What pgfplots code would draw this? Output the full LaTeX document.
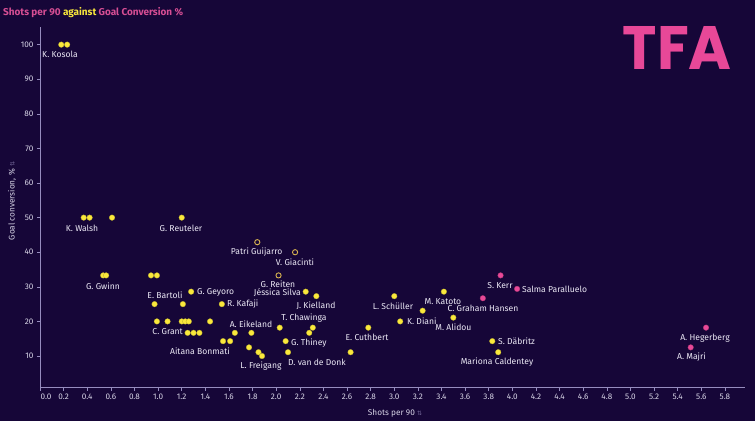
\documentclass[border=0pt]{standalone}
\usepackage{fontspec}
\setmainfont{Fira Sans}
\newfontfamily\logofont{Poppins}
\newfontfamily\symfont{DejaVu Sans}
\usepackage{graphicx}
\usepackage{pgfplots}
\pgfplotsset{compat=1.18}
\definecolor{bg}{RGB}{22,6,56}
\definecolor{ylw}{RGB}{250,232,60}
\definecolor{pnk}{RGB}{232,72,152}
\definecolor{ttlpink}{RGB}{214,78,148}
\definecolor{axc}{RGB}{150,140,190}
\definecolor{txt}{RGB}{235,232,245}
\definecolor{tck}{RGB}{215,212,230}
\definecolor{hol}{RGB}{215,180,80}
\tikzset{lbl/.style={font=\fontsize{8.6}{10}\selectfont,text=txt,inner sep=0}}
\begin{document}
\begin{tikzpicture}[x=1bp,y=1bp]
\fill[bg] (0,0) rectangle (755,421);
\useasboundingbox (0,0) rectangle (755,421);
\node[anchor=west,inner sep=0] at (3,408) {\fontsize{10}{12}\selectfont\bfseries\textcolor{ttlpink}{Shots per 90} \textcolor{ylw}{against} \textcolor{ttlpink}{Goal Conversion \%}};
\node[anchor=north west,inner sep=0] at (622.5,394.3) {\resizebox{109bp}{43bp}{\color{pnk}\logofont\bfseries TFA}};
\node[rotate=90,inner sep=0,text=tck] at (12,220) {\fontsize{8.3}{10}\selectfont Goal conversion, \% {\color{axc!70!bg}\symfont\fontsize{6}{7}\selectfont ⇅}};
\node[inner sep=0,text=tck] at (395,8) {\fontsize{8.3}{10}\selectfont Shots per 90 {\color{axc!70!bg}\symfont\fontsize{6}{7}\selectfont ⇅}};
\begin{axis}[at={(40bp,33.5bp)},anchor=south west, scale only axis,
  width=705bp, height=360.5bp,
  xmin=0,xmax=5.97,ymin=0.9,ymax=105.1,
  axis x line=bottom, axis y line=left,
  axis line style={-,draw=axc,line width=0.8bp},
  tick align=outside, major tick length=3bp,
  every tick/.style={draw=axc,line width=0.6bp},
  xtick={0.2,0.4,0.6,0.8,1.0,1.2,1.4,1.6,1.8,2.0,2.2,2.4,2.6,2.8,3.0,3.2,3.4,3.6,3.8,4.0,4.2,4.4,4.6,4.8,5.0,5.2,5.4,5.6,5.8},
  extra x ticks={0},
  extra x tick style={xticklabel style={xshift=6bp}},
  ytick={10,20,30,40,50,60,70,80,90,100},
  /pgf/number format/assume math mode=true,
  xticklabel style={/pgf/number format/fixed,/pgf/number format/fixed zerofill,/pgf/number format/precision=1},
  yticklabel style={/pgf/number format/fixed,/pgf/number format/precision=0},
  tick label style={font=\fontsize{8.2}{9}\selectfont,text=tck},
  clip=false,
]
\addplot[only marks, mark=*, mark size=2.8bp, mark options={fill=ylw,draw=ylw!75!black,line width=0.3bp}] coordinates {
(0.18,100) (0.23,100)
(0.37,50) (0.42,50) (0.61,50) (1.20,50)
(0.535,33.3) (0.56,33.3) (0.94,33.3) (0.99,33.3)
(0.97,25) (1.21,25) (1.54,25) (1.28,28.6)
(0.99,20) (1.08,20) (1.20,20) (1.23,20) (1.26,20) (1.44,20)
(1.25,16.7) (1.30,16.7) (1.35,16.7) (1.65,16.7) (1.79,16.7)
(1.55,14.3) (1.61,14.3)
(1.77,12.5) (1.85,11.1) (1.88,10)
(2.25,28.6) (2.34,27.3)
(2.03,18.2) (2.31,18.2) (2.28,16.7)
(2.08,14.3) (2.10,11.1) (2.63,11.1) (2.78,18.2)
(3.00,27.3) (3.05,20) (3.24,23.1) (3.42,28.6) (3.50,21.1)
(3.83,14.3) (3.88,11.1)
};
\addplot[only marks, mark=*, mark size=2.8bp, mark options={fill=pnk,draw=pnk!75!black,line width=0.3bp}] coordinates {
(3.75,26.7) (3.90,33.3) (4.04,29.4) (5.64,18.2) (5.51,12.5)
};
\addplot[only marks, mark=*, mark size=2.6bp, mark options={fill=bg,draw=hol,line width=0.9bp}] coordinates {
(1.84,42.9) (2.16,40) (2.02,33.3)
};
\node[lbl] at (axis cs:0.169,97.3) {K. Kosola};
\node[lbl] at (axis cs:0.356,47.0) {K. Walsh};
\node[lbl] at (axis cs:1.194,47.0) {G. Reuteler};
\node[lbl] at (axis cs:1.835,40.0) {Patri Guijarro};
\node[lbl] at (axis cs:2.159,37.2) {V. Giacinti};
\node[lbl] at (axis cs:0.533,30.3) {G. Gwinn};
\node[lbl] at (axis cs:2.015,30.8) {G. Reiten};
\node[lbl,anchor=east] at (axis cs:2.210,28.2) {Jéssica Silva};
\node[lbl] at (axis cs:1.058,27.7) {E. Bartoli};
\node[lbl,anchor=west] at (axis cs:1.329,28.4) {G. Geyoro};
\node[lbl,anchor=west] at (axis cs:1.583,25.0) {R. Kafaji};
\node[lbl] at (axis cs:2.337,24.4) {J. Kielland};
\node[lbl] at (axis cs:2.989,24.3) {L. Schüller};
\node[lbl] at (axis cs:3.412,25.7) {M. Katoto};
\node[lbl] at (axis cs:3.751,23.7) {C. Graham Hansen};
\node[lbl] at (axis cs:3.895,30.3) {S. Kerr};
\node[lbl,anchor=west] at (axis cs:4.081,29.3) {Salma Paralluelo};
\node[lbl,anchor=west] at (axis cs:3.107,20.2) {K. Diani};
\node[lbl] at (axis cs:3.501,18.2) {M. Alidou};
\node[lbl] at (axis cs:2.235,20.9) {T. Chawinga};
\node[lbl] at (axis cs:1.787,19.3) {A. Eikeland};
\node[lbl,anchor=east] at (axis cs:1.211,17.05) {C. Grant};
\node[lbl,anchor=west] at (axis cs:2.125,13.8) {G. Thiney};
\node[lbl] at (axis cs:1.355,11.5) {Aitana Bonmati};
\node[lbl] at (axis cs:2.769,15.3) {E. Cuthbert};
\node[lbl] at (axis cs:1.871,7.2) {L. Freigang};
\node[lbl] at (axis cs:2.345,8.2) {D. van de Donk};
\node[lbl,anchor=west] at (axis cs:3.878,14.2) {S. Däbritz};
\node[lbl] at (axis cs:3.870,8.2) {Mariona Caldentey};
\node[lbl] at (axis cs:5.631,15.2) {A. Hegerberg};
\node[lbl] at (axis cs:5.516,9.8) {A. Majri};
\end{axis}
\end{tikzpicture}
\end{document}
